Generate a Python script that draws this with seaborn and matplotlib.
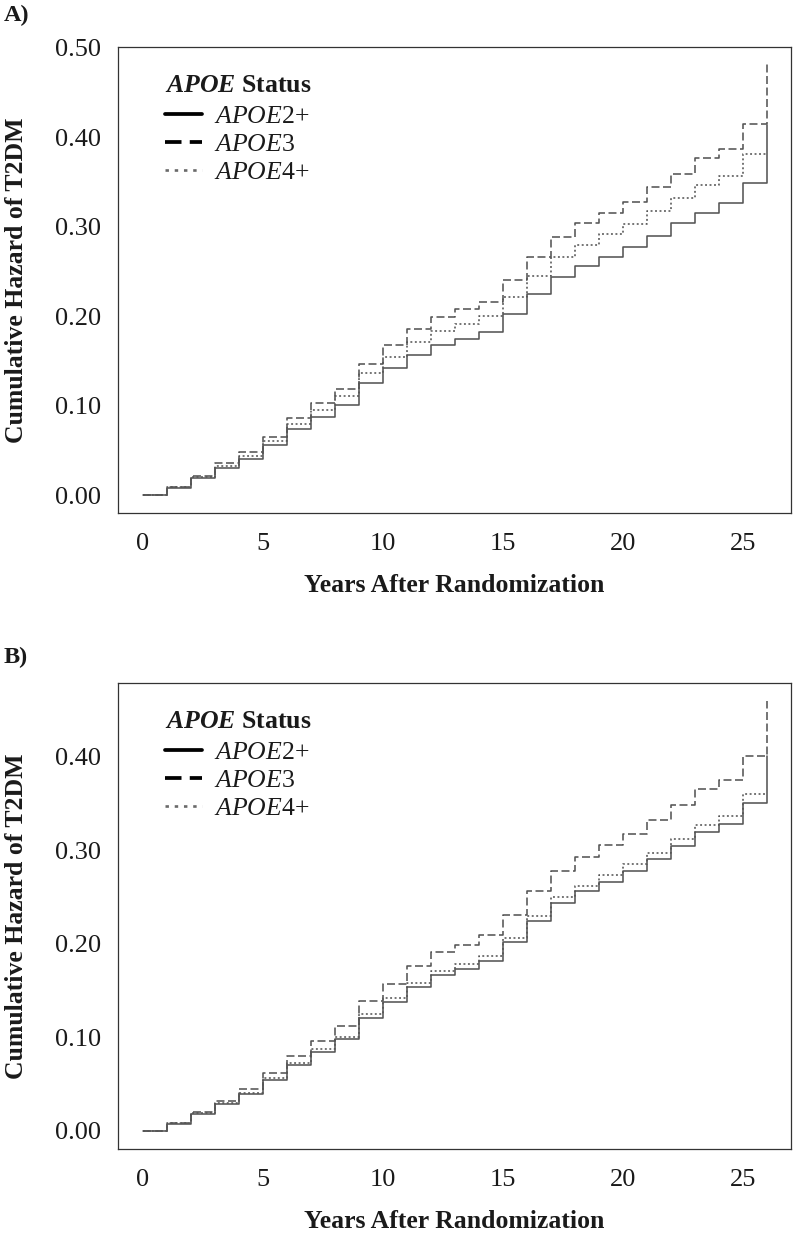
import numpy as np
import pandas as pd
import matplotlib
matplotlib.use("Agg")
import matplotlib.pyplot as plt
from matplotlib.lines import Line2D
from matplotlib.ticker import FormatStrFormatter
import seaborn as sns

# ---------------- data ----------------
years = list(range(0, 26))          # step starts (steps-post), last step ends at 26
end_year = 26
groups = ["APOE2+", "APOE3", "APOE4+"]

a_apoe2 = [0, 0.008, 0.019, 0.030, 0.040, 0.056, 0.0735, 0.0876, 0.1007, 0.125,
           0.1424, 0.1566, 0.1678, 0.1745, 0.1827, 0.2025, 0.2245, 0.2433, 0.2565, 0.2666,
           0.2778, 0.290, 0.304, 0.3158, 0.327, 0.3493]
a_apoe3 = [0, 0.0087, 0.0216, 0.0354, 0.048, 0.0645, 0.0865, 0.1026, 0.119, 0.147,
           0.1678, 0.1857, 0.1988, 0.2077, 0.2162, 0.2410, 0.2666, 0.289, 0.304, 0.315,
           0.328, 0.344, 0.359, 0.3766, 0.3867, 0.4146]
a_apoe4 = [0, 0.0085, 0.020, 0.032, 0.044, 0.060, 0.080, 0.095, 0.1107, 0.136,
           0.1547, 0.1715, 0.1834, 0.1913, 0.2002, 0.221, 0.2451, 0.2666, 0.2796, 0.292,
           0.3028, 0.3177, 0.3318, 0.3468, 0.3568, 0.3814]
a_end = [0.414, 0.4817, 0.3814]

b_apoe2 = [0, 0.0075, 0.018, 0.0285, 0.0392, 0.0545, 0.0706, 0.0848, 0.098, 0.1212,
           0.1383, 0.1544, 0.1668, 0.1733, 0.1818, 0.2018, 0.2245, 0.2436, 0.2567, 0.2667,
           0.2781, 0.2906, 0.3051, 0.3194, 0.3283, 0.3511]
b_apoe3 = [0, 0.0089, 0.020, 0.0325, 0.0446, 0.0617, 0.0802, 0.0966, 0.1126, 0.1394,
           0.1569, 0.1765, 0.191, 0.1989, 0.2096, 0.231, 0.2567, 0.2784, 0.2934, 0.3055,
           0.3176, 0.3326, 0.3487, 0.3658, 0.3754, 0.4014]
b_apoe4 = [0, 0.008, 0.019, 0.030, 0.041, 0.0567, 0.0724, 0.0873, 0.1009, 0.1248,
           0.1422, 0.1578, 0.1708, 0.1786, 0.1872, 0.2068, 0.2303, 0.250, 0.2624, 0.2738,
           0.2852, 0.2977, 0.312, 0.3273, 0.3369, 0.3601]
b_end = [0.4014, 0.4602, 0.3601]

x_ticks = [0, 5, 10, 15, 20, 25]
a_yticks = [0.0, 0.1, 0.2, 0.3, 0.4, 0.5]
b_yticks = [0.0, 0.1, 0.2, 0.3, 0.4]


def long_frame(series, ends):
    rows = []
    for g, vals, e in zip(groups, series, ends):
        for t, v in zip(years, vals):
            rows.append((t, v, g))
        rows.append((end_year, vals[-1], g))
        rows.append((end_year, e, g))
    return pd.DataFrame(rows, columns=["Years", "Hazard", "Group"])


df_a = long_frame([a_apoe2, a_apoe3, a_apoe4], a_end)
df_b = long_frame([b_apoe2, b_apoe3, b_apoe4], b_end)

# ---------------- style ----------------
sns.set_style("white")
plt.rcParams["font.family"] = ["Liberation Serif", "DejaVu Serif"]
plt.rcParams["mathtext.fontset"] = "custom"
plt.rcParams["mathtext.rm"] = "Liberation Serif"
plt.rcParams["mathtext.it"] = "Liberation Serif:italic"
plt.rcParams["mathtext.bf"] = "Liberation Serif:italic:bold"

LINE_COL = "#555555"
TXT_COL = "#1a1a1a"
dash_map = {"APOE2+": "", "APOE3": (5, 2.2), "APOE4+": (1.2, 1.6)}
pal = {g: LINE_COL for g in groups}

fig = plt.figure(figsize=(8.0, 12.36), dpi=100)
W, H = 800.0, 1236.0
box_left, box_right = 118, 791
panels = [
    (df_a, 47, 513, (-0.0201, 0.5011), a_yticks, "A)", 15),
    (df_b, 683, 1149, (-0.0193, 0.479), b_yticks, "B)", 657),
]

for df, top, bot, ylim, yt, tag, tag_y in panels:
    ax = fig.add_axes([box_left / W, 1 - bot / H, (box_right - box_left) / W, (bot - top) / H])
    sns.lineplot(data=df, x="Years", y="Hazard", hue="Group", style="Group",
                 palette=pal, dashes=dash_map, estimator=None, errorbar=None,
                 drawstyle="steps-post", linewidth=1.15, legend=False, ax=ax)
    ax.set_xlim(-1.042, 27.0)
    ax.set_ylim(*ylim)
    ax.set_xticks(x_ticks)
    ax.set_yticks(yt)
    ax.yaxis.set_major_formatter(FormatStrFormatter("%.2f"))
    ax.tick_params(axis="both", which="major", direction="out", length=6.5, width=0.9,
                   color="#333333", labelsize=19, labelcolor=TXT_COL)
    ax.tick_params(axis="x", pad=8)
    ax.tick_params(axis="y", pad=6)
    for s in ax.spines.values():
        s.set_visible(True)
        s.set_color("#333333")
        s.set_linewidth(0.9)
    ax.set_xlabel("Years After Randomization", fontsize=18.5, fontweight="bold", color=TXT_COL)
    ax.set_ylabel("Cumulative Hazard of T2DM", fontsize=18.5, fontweight="bold", color=TXT_COL)
    ax.xaxis.set_label_coords(0.5, -0.13)
    ax.yaxis.set_label_coords(-0.134, 0.5)
    ax.grid(False)

    handles = [
        Line2D([], [], color="black", lw=2.7, ls="-"),
        Line2D([], [], color="black", lw=2.7, ls=(0, (4.4, 2.2))),
        Line2D([], [], color="#6a6a6a", lw=1.9, ls=(0, (1.3, 2.2))),
    ]
    labels = [r"$\mathit{APOE}$2+", r"$\mathit{APOE}$3", r"$\mathit{APOE}$4+"]
    leg = ax.legend(handles, labels, loc="upper left", bbox_to_anchor=(0.07, 0.943),
                    frameon=False, fontsize=18.5, handlelength=1.45, handletextpad=0.45,
                    labelspacing=0.2, borderpad=0, borderaxespad=0,
                    title=r"$\mathbf{APOE}$ Status",
                    title_fontproperties={"size": 18.5, "weight": "bold"})
    leg._legend_box.align = "left"
    leg._legend_box.sep = 6
    for t in leg.get_texts():
        t.set_color(TXT_COL)
    leg.get_title().set_color(TXT_COL)

    fig.text(4 / W, 1 - tag_y / H, tag, fontsize=17.5, fontweight="bold",
             va="center", ha="left", color=TXT_COL)

fig.savefig("out.png", dpi=100)
